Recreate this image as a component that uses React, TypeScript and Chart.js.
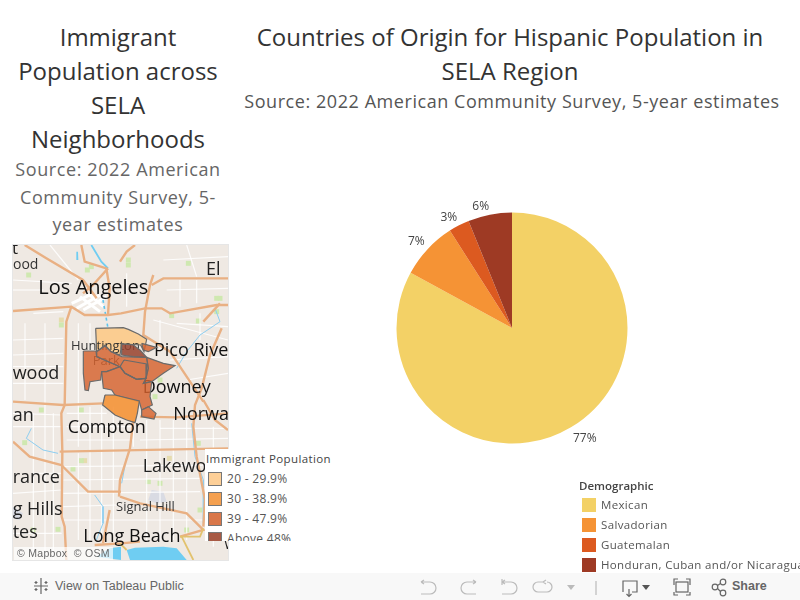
import React, { useEffect, useRef } from "react";
import { Chart, registerables } from "chart.js";

Chart.register(...registerables);

// ---- Pie data ----
const categories = ["Mexican", "Salvadorian", "Guatemalan", "Honduran, Cuban and/or Nicaraguan"];
const shares = [77.1, 7.45, 2.7, 5.7];
const pieColors = ["#f3d166", "#f59335", "#dc5a20", "#9e3a24"];

// ---- Map legend ----
const immigrantBands = ["20 - 29.9%", "30 - 38.9%", "39 - 47.9%", "Above 48%"];
const bandColors = ["#fdcf97", "#f4a050", "#d9774a", "#a85a45"];

// ---- Map data, in map units ----
type P = [number, number];
const highways: P[][] = [
  [[74, 15], [139, 55], [249, 120], [290, 175]],
  [[39, 213], [214, 200], [254, 225], [324, 225], [363, 220], [435, 205], [485, 205], [510, 220], [650, 195], [684, 195]],
  [[214, 200], [199, 245], [194, 495], [184, 520], [187, 635], [185, 830], [194, 860], [199, 960]],
  [[244, 15], [254, 65], [319, 85], [329, 145], [324, 225]],
  [[324, 85], [279, 135], [249, 160]],
  [[460, 105], [450, 135], [435, 215], [430, 285], [510, 335], [550, 395], [610, 485]],
  [[455, 135], [490, 115], [684, 115]],
  [[405, 15], [380, 35], [360, 65]],
  [[665, 265], [630, 345], [605, 445], [585, 495], [580, 560], [590, 650], [615, 780], [610, 860]],
  [[39, 485], [189, 495], [310, 490]],
  [[39, 605], [89, 650], [184, 675], [264, 755], [363, 755]],
  [[179, 635], [684, 625]],
  [[284, 915], [363, 910], [420, 905]],
  [[329, 810], [309, 910]],
  [[420, 530], [530, 532], [684, 520]],
  [[400, 540], [390, 625], [360, 720], [357, 770]],
  [[360, 770], [420, 790], [560, 820], [610, 870], [540, 890]],
  [[610, 480], [645, 540], [684, 570]],
  [[610, 245], [660, 190]],
];
const connectorRoads: P[][] = [
  [[540, 890], [600, 890], [610, 865]],
  [[360, 910], [380, 930]],
  [[545, 890], [580, 960]],
];
const minorRoads: P[][] = [
  [[75, 250], [75, 480]], [[100, 520], [100, 960]], [[135, 250], [135, 960]], [[160, 520], [160, 960]],
  [[235, 250], [235, 620]], [[235, 640], [235, 900]], [[270, 250], [270, 330]], [[270, 500], [270, 900]],
  [[305, 500], [305, 900]], [[340, 500], [340, 880]], [[400, 560], [400, 620]], [[440, 540], [440, 900]],
  [[480, 540], [480, 900]], [[520, 540], [520, 900]], [[560, 540], [560, 900]], [[640, 560], [640, 920]],
  [[480, 240], [480, 330]], [[540, 120], [540, 200]], [[380, 100], [380, 200]], [[590, 120], [590, 190]],
  [[600, 220], [600, 300]],
  [[39, 300], [190, 295]], [[39, 345], [190, 340]], [[39, 380], [190, 380]], [[39, 430], [190, 430]],
  [[39, 520], [185, 525]], [[39, 560], [185, 560]], [[200, 520], [320, 520]], [[200, 560], [400, 560]],
  [[200, 600], [400, 600]], [[480, 565], [684, 565]], [[420, 600], [684, 595]], [[190, 680], [680, 675]],
  [[190, 720], [600, 715]], [[190, 760], [600, 755]], [[190, 800], [350, 795]], [[190, 840], [610, 840]],
  [[100, 700], [185, 700]], [[39, 760], [185, 750]], [[39, 880], [185, 880]], [[530, 250], [684, 260]],
  [[460, 240], [684, 300]], [[510, 360], [684, 350]], [[560, 420], [684, 400]], [[500, 150], [684, 145]],
  [[490, 60], [684, 50]], [[39, 150], [130, 150]], [[100, 220], [190, 215]], [[39, 120], [215, 130]],
  [[150, 15], [235, 120]], [[560, 15], [590, 110]],
];
const downtownRoads: P[][] = [
  [[215, 190], [270, 165], [310, 200]],
  [[230, 205], [300, 165]],
  [[240, 170], [300, 215]],
  [[250, 210], [320, 170]],
];
const rivers: P[][] = [
  [[600, 285], [560, 335], [530, 385]],
  [[645, 205], [660, 245], [600, 285]],
  [[94, 565], [79, 595], [129, 630], [174, 640]],
  [[284, 765], [309, 800], [309, 850], [289, 900]],
  [[575, 550], [585, 650], [610, 720], [610, 850]],
  [[380, 650], [365, 730]],
];
const bigRiver: P[] = [[274, 15], [304, 65], [324, 85]];
const dottedRiver: P[] = [[309, 180], [324, 265]];
const lake: P[] = [[229, 35], [234, 35], [235, 60], [229, 60]];
const harbour: P[] = [[380, 930], [405, 923], [490, 920], [530, 925], [560, 960], [390, 960]];
const leftWater: P[] = [[289, 950], [329, 925], [363, 920], [363, 960]];
const grayPatch: P[] = [[445, 780], [455, 750], [490, 755], [500, 785], [470, 790]];
const grayPatchWest: P[] = [[39, 800], [69, 820], [59, 840], [39, 835]];
const parks: P[] = [
  [86, 105], [274, 80], [262, 90], [184, 255], [385, 60], [385, 75], [565, 70], [515, 227], [650, 175], [480, 420],
  [595, 243], [124, 510], [244, 510], [74, 608], [244, 662], [219, 687], [174, 868], [99, 870], [480, 730],
  [445, 725], [600, 810], [595, 610], [560, 870], [465, 470], [650, 215], [660, 175],
];
const sandPatches: P[] = [[254, 662], [184, 240], [508, 655]];
const region20: P[] = [[287, 265], [370, 263], [385, 268], [415, 282], [440, 298], [432, 335], [422, 315], [365, 312], [360, 345], [333, 335], [315, 315], [290, 335]];
const region48: P[] = [[365, 312], [400, 315], [420, 330], [440, 352], [400, 350], [365, 345]];
const regionTop: P[] = [[425, 310], [470, 322], [445, 335], [430, 330]];
const regionWest: P[] = [[250, 333], [288, 333], [290, 350], [360, 380], [320, 395], [305, 395], [302, 420], [270, 425], [265, 452], [255, 450], [250, 400]];
const regionNorth: P[] = [[290, 335], [315, 318], [333, 335], [365, 350], [440, 352], [445, 385], [438, 415], [410, 418], [375, 400], [360, 380], [290, 350]];
const regionMiddle: P[] = [[372, 360], [440, 372], [438, 415], [410, 418], [375, 400], [360, 380]];
const regionEast: P[] = [[440, 352], [490, 370], [525, 377], [490, 400], [455, 425], [430, 430], [438, 415], [445, 385]];
const regionSouth: P[] = [[305, 395], [320, 395], [360, 380], [375, 400], [410, 418], [438, 415], [430, 430], [455, 425], [450, 470], [457, 495], [425, 510], [418, 485], [345, 465], [335, 450], [310, 445]];
const regionSmall: P[] = [[425, 510], [445, 500], [468, 520], [462, 537], [425, 530]];
const regionBottom: P[] = [[315, 465], [345, 465], [418, 483], [412, 520], [405, 548], [380, 540], [345, 525], [308, 495]];

const mapLabels: [string, number, number, number, string][] = [
  ["t", 36, 27, 17, "#222"],
  ["ood", 39, 75, 14, "#333"],
  ["El", 618, 90, 18, "#222"],
  ["Los Angeles", 115, 145, 20, "#111"],
  ["Huntington", 213, 318, 13, "#333"],
  ["Park", 278, 365, 13, "#444"],
  ["Pico Rive", 462, 332, 18, "#111"],
  ["wood", 38, 402, 18, "#222"],
  ["Downey", 428, 445, 18, "#111"],
  ["Norwa", 520, 524, 18, "#111"],
  ["an", 38, 528, 18, "#222"],
  ["Compton", 203, 563, 18, "#111"],
  ["Lakewood", 428, 680, 18, "#222"],
  ["rance", 38, 715, 18, "#222"],
  ["g Hills", 38, 810, 18, "#222"],
  ["tes", 38, 878, 18, "#222"],
  ["Signal Hill", 348, 803, 13, "#333"],
  ["Long Beach", 250, 892, 18, "#111"],
  ["W", 672, 915, 14, "#222"],
];

const FONT = '"Open Sans", sans-serif';

const toPts = (a: P[]) => a.map(([x, y]) => ({ x, y }));
const closed = (a: P[]) => toPts([...a, a[0]]);

function line(a: P[], color: string, width: number, dash: number[] = []) {
  return { type: "line", data: toPts(a), borderColor: color, borderWidth: width, borderDash: dash, pointRadius: 0, fill: false, tension: 0 };
}
function area(a: P[], fillColor: string, stroke = "transparent", width = 0) {
  return { type: "line", data: closed(a), backgroundColor: fillColor, borderColor: stroke, borderWidth: width, pointRadius: 0, fill: "shape", tension: 0 };
}

const OUTLINE = "#6a6a6a";
const MID = "rgba(214,98,45,0.82)";
const regionData = [
  area(regionBottom, "rgba(245,145,50,0.88)", OUTLINE, 1.2),
  area(regionSmall, MID, OUTLINE, 1.2),
  area(regionTop, MID, OUTLINE, 1.2),
  area(region48, "rgba(150,65,45,0.85)", OUTLINE, 1.2),
  area(regionMiddle, "rgba(214,98,45,0)", OUTLINE, 1.2),
  area(regionSouth, MID, OUTLINE, 1.2),
  area(regionEast, MID, OUTLINE, 1.2),
  area(regionNorth, MID, OUTLINE, 1.2),
  area(regionWest, MID, OUTLINE, 1.2),
  area(region20, "rgba(253,200,130,0.85)", OUTLINE, 1.2),
];

const mapLabelPlugin = {
  id: "mapLabels",
  beforeDatasetDraw(chart: any, args: any) {
    // regions come first in the dataset list and so are painted last; labels go just below them
    if (args.index !== regionData.length - 1) return;
    const { ctx, scales } = chart;
    ctx.save();
    ctx.textAlign = "left";
    ctx.textBaseline = "middle";
    for (const [t, x, y, size, color] of mapLabels) {
      ctx.font = `${size}px ${FONT}`;
      ctx.fillStyle = color;
      ctx.fillText(t, scales.x.getPixelForValue(x), scales.y.getPixelForValue(y));
    }
    ctx.restore();
  },
};

const pieLabelPlugin = {
  id: "pieLabels",
  afterDatasetsDraw(chart: any) {
    const { ctx } = chart;
    const meta = chart.getDatasetMeta(0);
    ctx.save();
    ctx.font = `12px ${FONT}`;
    ctx.fillStyle = "#444";
    meta.data.forEach((arc: any, i: number) => {
      const p = arc.getProps(["x", "y", "startAngle", "endAngle", "outerRadius"], true);
      const a = (p.startAngle + p.endAngle) / 2;
      const r = p.outerRadius + 4;
      ctx.textAlign = Math.cos(a) > 0 ? "left" : "right";
      ctx.textBaseline = Math.sin(a) > 0 ? "top" : "bottom";
      ctx.fillText(`${Math.round(shares[i])}%`, p.x + Math.cos(a) * r, p.y + Math.sin(a) * r + 1.5);
    });
    ctx.restore();
  },
};

const abs = (left: number, top: number, extra: any = {}) => ({ position: "absolute", left, top, ...extra }) as any;

function TitleLines({ lines, cx, top, lh, size, color, width, ls = 0 }: any) {
  return (
    <div style={abs(cx - width / 2, top, { width, textAlign: "center", font: `${size}px ${FONT}`, lineHeight: `${lh}px`, color, letterSpacing: ls })}>
      {lines.map((l: string) => (
        <div key={l} style={{ whiteSpace: "nowrap" }}>{l}</div>
      ))}
    </div>
  );
}

const ICON = "#666";
const FAINT = "#bbb";
const ROAD = "#e9b083";

export default function App() {
  const pieRef = useRef<HTMLCanvasElement>(null);
  const mapRef = useRef<HTMLCanvasElement>(null);

  useEffect(() => {
    const pie = new Chart(pieRef.current!, {
      type: "pie",
      data: { labels: categories, datasets: [{ data: shares, backgroundColor: pieColors, borderWidth: 0 }] },
      options: {
        animation: false,
        responsive: false,
        layout: { padding: { left: 156.5, right: 172.5, top: 32.5, bottom: 36.5 } },
        plugins: { legend: { display: false }, tooltip: { enabled: false } },
      },
      plugins: [pieLabelPlugin],
    } as any);

    const map = new Chart(mapRef.current!, {
      type: "scatter",
      data: {
        datasets: [
          ...regionData,
          ...connectorRoads.map((h) => line(h, "#e2c26e", 1.8)),
          ...highways.map((h) => line(h, ROAD, 2.4)),
          line(dottedRiver, "#5cc4ee", 1.6, [3, 3]),
          line(bigRiver, "#6fcdf2", 1.8),
          ...rivers.map((h) => line(h, "#8ccdf0", 1)),
          ...downtownRoads.map((h) => line(h, "#ffffff", 3)),
          ...minorRoads.map((h) => line(h, "rgba(255,255,255,0.85)", 1.2)),
          { data: toPts(parks), pointStyle: "rect", pointRadius: 3.5, backgroundColor: "#cfe8b0", borderWidth: 0 },
          { data: toPts(sandPatches), pointStyle: "rect", pointRadius: 3.5, backgroundColor: "#e6dcae", borderWidth: 0 },
          area(lake, "#6fcdf2"),
          area(harbour, "#6fcdf2"),
          area(leftWater, "#6fcdf2"),
          area(grayPatch, "#d9dbe3"),
          area(grayPatchWest, "#d9dbe3"),
        ],
      },
      options: {
        animation: false,
        responsive: false,
        layout: { padding: 0, autoPadding: false },
        plugins: { legend: { display: false }, tooltip: { enabled: false }, filler: { propagate: false } },
        scales: {
          x: { type: "linear", display: false, min: 39, max: 684 },
          y: { type: "linear", display: false, min: 15, max: 960, reverse: true },
        },
      },
      plugins: [mapLabelPlugin],
    } as any);

    return () => {
      pie.destroy();
      map.destroy();
    };
  }, []);

  return (
    <div style={abs(0, 0, { width: 800, height: 600, overflow: "hidden", background: "#fff", fontFamily: FONT })}>
      <TitleLines
        lines={["Immigrant", "Population across", "SELA", "Neighborhoods"]}
        cx={118} top={20} lh={34} size={24} color="#333" width={230}
      />
      <TitleLines
        lines={["Source: 2022 American", "Community Survey, 5-", "year estimates"]}
        cx={118} top={156} lh={27.5} size={18} color="#666" width={230} ls={0.6}
      />
      <TitleLines
        lines={["Countries of Origin for Hispanic Population in", "SELA Region"]}
        cx={510} top={20} lh={34} size={24} color="#333" width={560}
      />
      <TitleLines
        lines={["Source: 2022 American Community Survey, 5-year estimates"]}
        cx={512} top={88} lh={27} size={18} color="#555" width={560} ls={0.56}
      />

      {/* Map */}
      <div style={abs(13, 245, { width: 215, height: 315, background: "#efe9e3", outline: "1px solid #e6e6e6" })}>
        <canvas ref={mapRef} width={215} height={315} style={{ display: "block" }} />
        <div style={abs(1, 302, { font: '10.5px "Liberation Sans", Arial, sans-serif', color: "#666", background: "rgba(255,255,255,0.7)", padding: "0 3px", lineHeight: "13px", whiteSpace: "pre", letterSpacing: 0.3 })}>
          {"© Mapbox  © OSM"}
        </div>
      </div>

      {/* Map legend */}
      <div style={abs(205, 449, { width: 130, height: 92, background: "#fff", overflow: "hidden" })}>
        <div style={abs(1, 2, { font: `11.5px ${FONT}`, color: "#444", whiteSpace: "nowrap", letterSpacing: 0.4 })}>Immigrant Population</div>
        {immigrantBands.map((b, i) => (
          <React.Fragment key={b}>
            <div style={abs(3, 23 + i * 20, { width: 12, height: 12, background: bandColors[i], border: "1px solid #777" })} />
            <div style={abs(22, 21 + i * 20, { font: `12px ${FONT}`, color: "#555", whiteSpace: "nowrap", lineHeight: "18px", letterSpacing: 0.3 })}>{b}</div>
          </React.Fragment>
        ))}
      </div>

      {/* Pie */}
      <canvas ref={pieRef} width={560} height={300} style={abs(240, 180, { display: "block" })} />

      {/* Pie legend */}
      <div style={abs(579, 478, { font: `11.5px ${FONT}`, fontWeight: 600, color: "#444", whiteSpace: "nowrap" })}>Demographic</div>
      {categories.map((c, i) => (
        <React.Fragment key={c}>
          <div style={abs(582, 498 + i * 20, { width: 14, height: 14, background: pieColors[i] })} />
          <div style={abs(601, 496 + i * 20, { font: `11.5px ${FONT}`, color: "#555", whiteSpace: "nowrap", lineHeight: "18px", letterSpacing: 0.35 })}>{c}</div>
        </React.Fragment>
      ))}

      {/* Tableau toolbar */}
      <div style={abs(0, 573, { width: 800, height: 27, background: "#f8f8f8" })}>
        <svg width="800" height="27" style={{ display: "block", position: "absolute", left: 0, top: 0 }} fill="none">
          <g stroke={ICON} strokeWidth="1.2">
            <path d="M41 6v14M34 13h14M36 8v3M34.5 9.5h3M46 8v3M44.5 9.5h3M36 15v3M34.5 16.5h3M46 15v3M44.5 16.5h3M41 5v2M41 19v2" />
          </g>
          <g stroke={FAINT} strokeWidth="1.2">
            <path d="M421 9h9a6 6 0 0 1 0 12h-9M421 9l3-2M421 9l3 2" />
            <path d="M476 9h-9a6 6 0 0 0 0 12h9M476 9l-3-2M476 9l-3 2" />
            <path d="M502 6v6M502 9h9a6 6 0 0 1 0 12h-9M502 9l3-2M502 9l3 2" />
            <path d="M543 9h-5a5 5 0 0 0 0 10h9a5 5 0 0 0 0-10M543 9l3-2M543 9l3 2" />
            <path d="M596 8v14" />
          </g>
          <path d="M567 12h8l-4 5z" fill={FAINT} />
          <g stroke={ICON} strokeWidth="1.2">
            <path d="M623 19v-11h14v11h-5M629 16v7M626.5 21l2.5 2.5 2.5-2.5" />
            <path d="M674 12v-6h4M688 6h-2M674 19v3h4M690 19v3h-4M690 12v-6h-4" />
            <rect x="676" y="9" width="12" height="10" />
            <circle cx="715" cy="14" r="2.8" />
            <circle cx="723" cy="9" r="2.8" />
            <circle cx="723" cy="20" r="2.8" />
            <path d="M717.5 12.5l3-2M717.5 15.5l3 3" />
          </g>
          <path d="M642 12h8l-4 5z" fill="#555" />
        </svg>
        <div style={abs(55, 6, { font: '12.5px "Liberation Sans", Arial, sans-serif', color: "#666", whiteSpace: "nowrap" })}>View on Tableau Public</div>
        <div style={abs(732, 6, { font: '12.5px "Liberation Sans", Arial, sans-serif', fontWeight: 700, color: "#666", whiteSpace: "nowrap" })}>Share</div>
      </div>
    </div>
  );
}
